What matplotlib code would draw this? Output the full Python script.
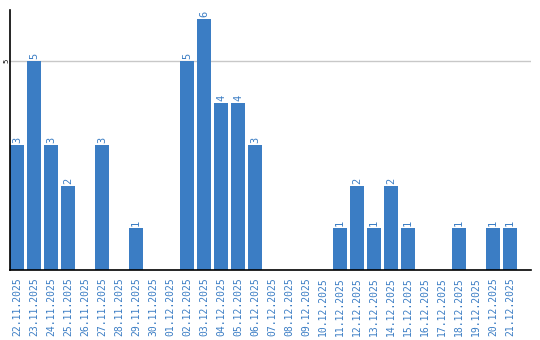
import matplotlib
matplotlib.use('Agg')
import matplotlib.pyplot as plt

days = ['22.11.2025', '23.11.2025', '24.11.2025', '25.11.2025', '26.11.2025',
        '27.11.2025', '28.11.2025', '29.11.2025', '30.11.2025', '01.12.2025',
        '02.12.2025', '03.12.2025', '04.12.2025', '05.12.2025', '06.12.2025',
        '07.12.2025', '08.12.2025', '09.12.2025', '10.12.2025', '11.12.2025',
        '12.12.2025', '13.12.2025', '14.12.2025', '15.12.2025', '16.12.2025',
        '17.12.2025', '18.12.2025', '19.12.2025', '20.12.2025', '21.12.2025']
counts = [3, 5, 3, 2, 0, 3, 0, 1, 0, 0,
          5, 6, 4, 4, 3, 0, 0, 0, 0, 1,
          2, 1, 2, 1, 0, 0, 1, 0, 1, 1]

blue = '#3b7dc4'

fig = plt.figure(figsize=(5.4, 3.4), dpi=100)
ax = fig.add_axes([10/540, 70/340, 521/540, 260/340])

x = list(range(len(days)))
ax.bar(x, counts, width=0.82, color=blue, zorder=2)

for i, v in enumerate(counts):
    if v > 0:
        ax.text(i, v + 0.05, str(v), rotation=90, ha='center', va='bottom',
                color=blue, fontsize=7.5, family='DejaVu Sans Mono')

ax.set_xlim(-0.41, 30.24)
ax.set_ylim(0, 6.22)
ax.set_yticks([5])
ax.set_yticklabels(['5'], rotation=90, va='center', fontsize=5)
ax.yaxis.grid(True, color='#c8c8c8', linewidth=1, zorder=0)
ax.tick_params(axis='y', length=0, pad=0.5)

ax.set_xticks(x)
ax.set_xticklabels(days, rotation=90, color=blue, fontsize=7, family='DejaVu Sans Mono')
ax.tick_params(axis='x', length=0, pad=5)

for s in ['top', 'right']:
    ax.spines[s].set_visible(False)
ax.spines['left'].set_linewidth(1.2)
ax.spines['bottom'].set_linewidth(1.2)

fig.savefig('out.png', dpi=100)
